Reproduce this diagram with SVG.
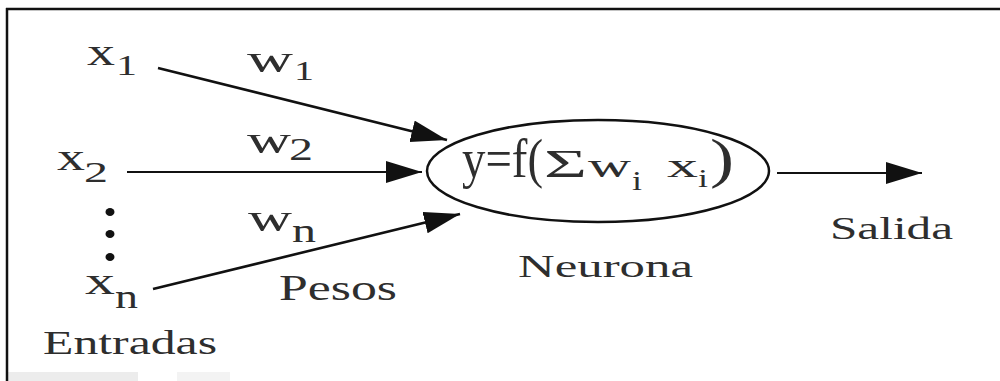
<svg xmlns="http://www.w3.org/2000/svg" width="1000" height="381" viewBox="0 0 1000 381">
<style>
text { font-family: "Liberation Serif", "Times New Roman", serif; fill: #2e2e2e; }
.ln { stroke: #111; fill: none; }
.dot { fill: #111; }
</style>
<defs>
<marker id="ah" markerUnits="userSpaceOnUse" markerWidth="38" markerHeight="24" refX="36" refY="11" orient="auto">
<path d="M0,0 L36,11 L0,22 z" fill="#111"/>
</marker>
</defs>
<rect x="0" y="0" width="1000" height="381" fill="#fff"/>
<g id="frame">
<rect x="8" y="372" width="130" height="9" fill="#ececec"/>
<rect x="177" y="372" width="53" height="9" fill="#f3f3f3"/>
<line x1="6" y1="9" x2="1000" y2="9" stroke="#111" stroke-width="2.5"/>
<line x1="7" y1="8" x2="7" y2="381" stroke="#111" stroke-width="2.5"/>
</g>
<g id="connectors">
<line class="ln" x1="158" y1="68" x2="447" y2="140" stroke-width="2.6" marker-end="url(#ah)"/>
<line class="ln" x1="127" y1="172" x2="422" y2="172" stroke-width="2" marker-end="url(#ah)"/>
<line class="ln" x1="153" y1="289" x2="460" y2="214" stroke-width="2.6" marker-end="url(#ah)"/>
<line class="ln" x1="777" y1="173" x2="922" y2="173" stroke-width="2" marker-end="url(#ah)"/>
</g>
<g id="input-x1">
<text x="87" y="65" font-size="38" textLength="28" lengthAdjust="spacingAndGlyphs">x</text>
<text x="116" y="75" font-size="30" textLength="21" lengthAdjust="spacingAndGlyphs">1</text>
</g>
<g id="input-x2">
<text x="57" y="170" font-size="38" textLength="28" lengthAdjust="spacingAndGlyphs">x</text>
<text x="84" y="182" font-size="30" textLength="24" lengthAdjust="spacingAndGlyphs">2</text>
</g>
<g id="dots">
<ellipse class="dot" cx="110" cy="212" rx="4.5" ry="4"/>
<ellipse class="dot" cx="110" cy="234" rx="4.5" ry="4"/>
<ellipse class="dot" cx="110" cy="257" rx="4.5" ry="4"/>
</g>
<g id="input-xn">
<text x="85" y="294" font-size="38" textLength="30" lengthAdjust="spacingAndGlyphs">x</text>
<text x="115" y="308" font-size="33" textLength="23" lengthAdjust="spacingAndGlyphs">n</text>
</g>
<g id="label-entradas">
<text x="43" y="354" font-size="33" textLength="174" lengthAdjust="spacingAndGlyphs">Entradas</text>
</g>
<g id="weight-w1">
<text x="247" y="72" font-size="38" textLength="46" lengthAdjust="spacingAndGlyphs">w</text>
<text x="294" y="80" font-size="27" textLength="20" lengthAdjust="spacingAndGlyphs">1</text>
</g>
<g id="weight-w2">
<text x="247" y="153" font-size="38" textLength="44" lengthAdjust="spacingAndGlyphs">w</text>
<text x="289" y="160" font-size="31" textLength="24" lengthAdjust="spacingAndGlyphs">2</text>
</g>
<g id="weight-wn">
<text x="248" y="231" font-size="38" textLength="44" lengthAdjust="spacingAndGlyphs">w</text>
<text x="292" y="242" font-size="33" textLength="24" lengthAdjust="spacingAndGlyphs">n</text>
</g>
<g id="label-pesos">
<text x="279" y="300" font-size="35" textLength="118" lengthAdjust="spacingAndGlyphs">Pesos</text>
</g>
<g id="neuron">
<ellipse cx="598" cy="171" rx="171" ry="51" fill="none" stroke="#111" stroke-width="2.5"/>
<text x="462" y="177" font-size="55" textLength="81" lengthAdjust="spacingAndGlyphs">y=f(</text>
<text x="544" y="177" font-size="40" textLength="43" lengthAdjust="spacingAndGlyphs">Σ</text>
<text x="588" y="177" font-size="33" textLength="43" lengthAdjust="spacingAndGlyphs">w</text>
<text x="632" y="190" font-size="28" textLength="10" lengthAdjust="spacingAndGlyphs">i</text>
<text x="667" y="177" font-size="33" textLength="31" lengthAdjust="spacingAndGlyphs">x</text>
<text x="698" y="187" font-size="26" textLength="10" lengthAdjust="spacingAndGlyphs">i</text>
<text x="710" y="177" font-size="55" textLength="24" lengthAdjust="spacingAndGlyphs">)</text>
</g>
<g id="label-neurona">
<text x="518" y="277" font-size="31" textLength="175" lengthAdjust="spacingAndGlyphs">Neurona</text>
</g>
<g id="label-salida">
<text x="830" y="239" font-size="32" textLength="123" lengthAdjust="spacingAndGlyphs">Salida</text>
</g>
</svg>
